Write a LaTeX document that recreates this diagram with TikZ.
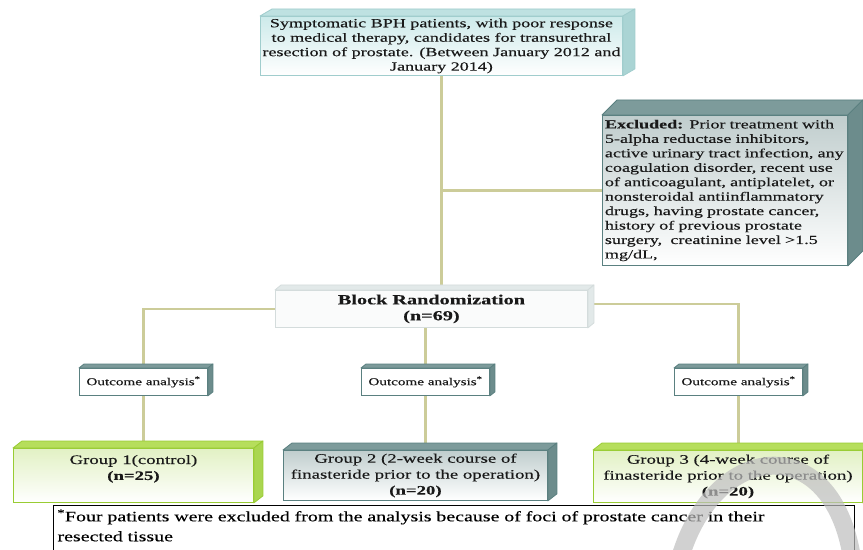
\documentclass[tikz,border=0pt]{standalone}
\usepackage{fontspec}
\setmainfont{Liberation Serif}[FakeStretch=1.45,FakeBold=0.3]
\newfontfamily\fnfont{Liberation Serif}[FakeStretch=1.38,FakeBold=0.3]
\usetikzlibrary{calc,backgrounds}
\definecolor{linec}{RGB}{204,204,153}
\definecolor{txt}{RGB}{25,25,25}
\definecolor{tbB}{RGB}{160,205,205}
\definecolor{tbF}{RGB}{205,234,234}
\definecolor{tbT}{RGB}{190,225,225}
\definecolor{tbS}{RGB}{170,212,212}
\definecolor{tlB}{RGB}{90,128,128}
\definecolor{tlF}{RGB}{192,205,205}
\definecolor{tlT}{RGB}{125,155,155}
\definecolor{tlS}{RGB}{108,140,140}
\definecolor{bkB}{RGB}{212,220,220}
\definecolor{bkF}{RGB}{250,251,251}
\definecolor{bkS}{RGB}{226,233,233}
\definecolor{grB}{RGB}{153,204,51}
\definecolor{grF}{RGB}{226,241,196}
\definecolor{grT}{RGB}{182,222,92}
\definecolor{grS}{RGB}{170,214,80}
\definecolor{wmark}{RGB}{190,190,190}
\newcommand\solidfaces[6]{%
  \filldraw[fill=#4,draw=#6,line width=0.8pt,line join=round]
    (#1.north west) -- ++(#2,-#3) -- ($(#1.north east)+(#2,-#3)$) -- (#1.north east) -- cycle;
  \filldraw[fill=#5,draw=#6,line width=0.8pt,line join=round]
    (#1.north east) -- ($(#1.north east)+(#2,-#3)$) -- ($(#1.south east)+(#2,-#3)$) -- (#1.south east) -- cycle;
}
\tikzset{
  conn/.style={draw=linec, line width=2.5pt},
  base/.style={inner sep=2pt, text=txt, line width=0.9pt, anchor=north west},
  topbox/.style={base, draw=tbB, top color=tbF, bottom color=white,
    minimum width=355bp, minimum height=59bp, align=center,
    font=\fontsize{12.5}{14.5}\selectfont},
  exclbox/.style={base, draw=tlB, top color=tlF, bottom color=white,
    minimum width=245bp, minimum height=150bp, text width=240bp, align=left,
    font=\fontsize{12.5}{14.5}\selectfont},
  blkbox/.style={base, draw=bkB, fill=bkF, minimum width=312bp, minimum height=37bp,
    align=center, font=\fontsize{14}{16}\selectfont\bfseries},
  outbox/.style={base, draw=tlB, fill=white, minimum width=128bp, minimum height=27bp,
    align=center, font=\fontsize{10.5}{12}\selectfont},
  greenbox/.style={base, draw=grB, top color=grF, bottom color=white,
    minimum height=54bp, align=center, font=\fontsize{13}{16}\selectfont},
  tealbox/.style={base, draw=tlB, top color=tlF, bottom color=white,
    minimum height=50bp, align=center, font=\fontsize{13}{16}\selectfont},
  footbox/.style={base, draw=black, fill=white, line width=1pt, inner sep=4bp,
    minimum width=801bp, text width=793bp, align=left, text=black,
    font=\fnfont\fontsize{14.5}{20}\selectfont},
}
\begin{document}
\begin{tikzpicture}[x=1bp,y=-1bp]
\useasboundingbox (0,0) rectangle (863,550);
\clip (0,0) rectangle (863,550);

% nodes
\node[topbox] (top) at (260,16) {Symptomatic BPH patients, with poor response\\to medical therapy, candidates for transurethral\\resection of prostate. (Between January 2012 and\\January 2014)};
\node[exclbox] (excl) at (602,115) {\textbf{Excluded:} Prior treatment with\\5-alpha reductase inhibitors,\\active urinary tract infection, any\\coagulation disorder, recent use\\of anticoagulant, antiplatelet, or\\nonsteroidal antiinflammatory\\drugs, having prostate cancer,\\history of previous prostate\\surgery,\ \ creatinine level >1.5\\mg/dL,};
\node[blkbox] (blk) at (275,290) {Block Randomization\\(n=69)};
\node[outbox] (o1) at (79,368) {Outcome analysis\textsuperscript{*}};
\node[outbox] (o2) at (361,368) {Outcome analysis\textsuperscript{*}};
\node[outbox] (o3) at (674,368) {Outcome analysis\textsuperscript{*}};
\node[greenbox, minimum width=240bp] (g1) at (13,448) {Group 1(control)\\\textbf{(n=25)}\\\mbox{}};
\node[tealbox, minimum width=264bp] (g2) at (283,450) {Group 2 (2-week course of\\finasteride prior to the operation)\\\textbf{(n=20)}};
\node[greenbox, minimum width=269bp, minimum height=52bp] (g3) at (593,450) {Group 3 (4-week course of\\finasteride prior to the operation)\\\textbf{(n=20)}};
\node[footbox] (foot) at (53,505) {\textsuperscript{*}Four patients were excluded from the analysis because of foci of prostate cancer in their\\resected tissue\\\mbox{}};

% 3-D faces
\solidfaces{top}{12}{7}{tbT}{tbS}{tbB}
\solidfaces{excl}{15}{15}{tlT}{tlS}{tlB}
\solidfaces{blk}{6}{5}{bkS}{bkS}{bkB}
\solidfaces{o1}{5}{4}{tlT}{tlS}{tlB}
\solidfaces{o2}{5}{4}{tlT}{tlS}{tlB}
\solidfaces{o3}{5}{4}{tlT}{tlS}{tlB}
\solidfaces{g1}{9}{7}{grT}{grS}{grB}
\solidfaces{g2}{9}{7}{tlT}{tlS}{tlB}
\solidfaces{g3}{9}{7}{grT}{grS}{grB}

% connectors (behind boxes)
\begin{scope}[on background layer]
\fill[white] (0,0) rectangle (863,550);
\draw[conn] (top.south) -- (top.south |- blk.north);
\draw[conn] (excl.west) -- (excl.west -| top.south);
\draw[conn] (blk.west) -| (o1.north);
\draw[conn] ([yshift=5bp]blk.east) -| (o3.north);
\draw[conn] (o2.north |- blk.south) -- (o2.north);
\draw[conn] (o1.south) -- (o1.south |- g1.north);
\draw[conn] (o2.south) -- (o2.south |- g2.north);
\draw[conn] (o3.south) -- (o3.south |- g3.north);
\end{scope}

% watermark
\draw[wmark, line width=18bp, opacity=0.7] (680,558) .. controls (715,440) and (832,430) .. (852,558);
\end{tikzpicture}
\end{document}
